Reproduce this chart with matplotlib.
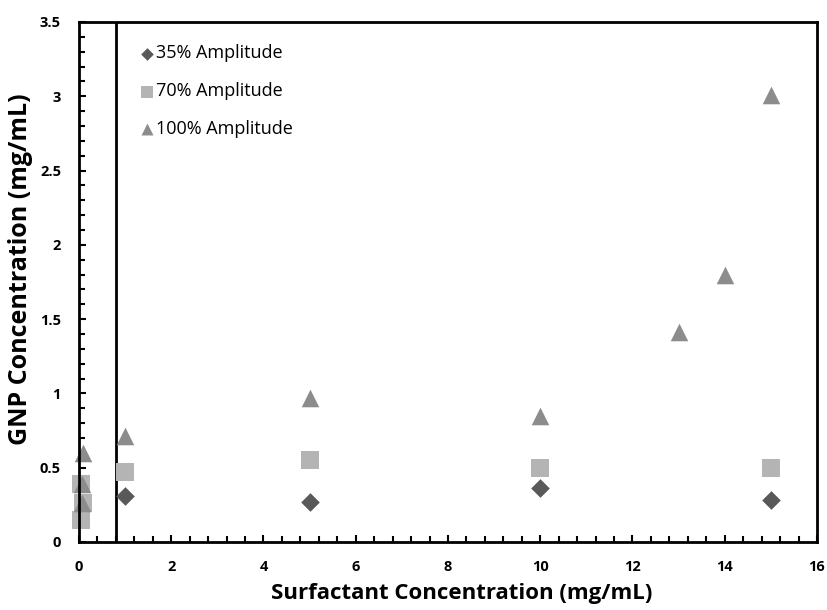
import numpy as np
import matplotlib.pyplot as plt
from matplotlib.ticker import MultipleLocator

# GNP concentration vs surfactant concentration at three sonication amplitudes
x_35 = [1, 5, 10, 15]
y_35 = [0.31, 0.27, 0.36, 0.28]

x_70 = [0.04, 0.09, 0.04, 1, 5, 10, 15]
y_70 = [0.39, 0.26, 0.15, 0.47, 0.55, 0.50, 0.50]

x_100 = [0.08, 0.06, 0.06, 1, 5, 10, 13, 14, 15]
y_100 = [0.60, 0.39, 0.26, 0.71, 0.97, 0.85, 1.41, 1.80, 3.01]

divider_x = 0.80

plt.rcParams['font.family'] = ['Open Sans', 'DejaVu Sans']

fig = plt.figure(figsize=(8.28, 6.10), dpi=100)
ax = fig.add_axes([0.0954, 0.1115, 0.8913, 0.8525])

ax.scatter(x_35, y_35, marker='D', s=90, color='#595959', linewidths=0,
           label='35% Amplitude', zorder=3, clip_on=False)
ax.scatter(x_70, y_70, marker='s', s=175, color='#b4b4b4', linewidths=0,
           label='70% Amplitude', zorder=2, clip_on=False)
ax.scatter(x_100, y_100, marker='^', s=160, color='#8c8c8c', linewidths=0,
           label='100% Amplitude', zorder=2, clip_on=False)

ax.axvline(divider_x, color='black', lw=2, zorder=1)

ax.set_xlim(0, 16)
ax.set_ylim(0, 3.5)
ax.xaxis.set_major_locator(MultipleLocator(2))
ax.xaxis.set_minor_locator(MultipleLocator(0.4))
ax.yaxis.set_major_locator(MultipleLocator(0.5))
ax.yaxis.set_minor_locator(MultipleLocator(0.1))
ax.set_yticks(np.arange(0, 3.51, 0.5))
ax.set_yticklabels(['0', '0.5', '1', '1.5', '2', '2.5', '3', '3.5'])

ax.tick_params(which='both', direction='in', width=1.5, labelsize=10.5)
ax.tick_params(which='major', length=5)
ax.tick_params(axis='x', which='major', pad=13)
ax.tick_params(axis='y', which='major', pad=13)
ax.tick_params(which='minor', length=4)
for lbl in ax.get_xticklabels() + ax.get_yticklabels():
    lbl.set_fontweight('bold')

for sp in ax.spines.values():
    sp.set_linewidth(2)

ax.set_xlabel('Surfactant Concentration (mg/mL)', fontsize=16, fontweight='bold')
ax.set_ylabel('GNP Concentration (mg/mL)', fontsize=18, fontweight='bold')
ax.xaxis.set_label_coords(0.519, -0.079)
ax.yaxis.set_label_coords(-0.062, 0.525)

leg = ax.legend(loc='upper left', bbox_to_anchor=(0.055, 0.988), frameon=False,
                fontsize=13, handletextpad=-0.1, labelspacing=1.1,
                markerscale=0.68, handlelength=1.2)

fig.savefig('out.png', dpi=100)
